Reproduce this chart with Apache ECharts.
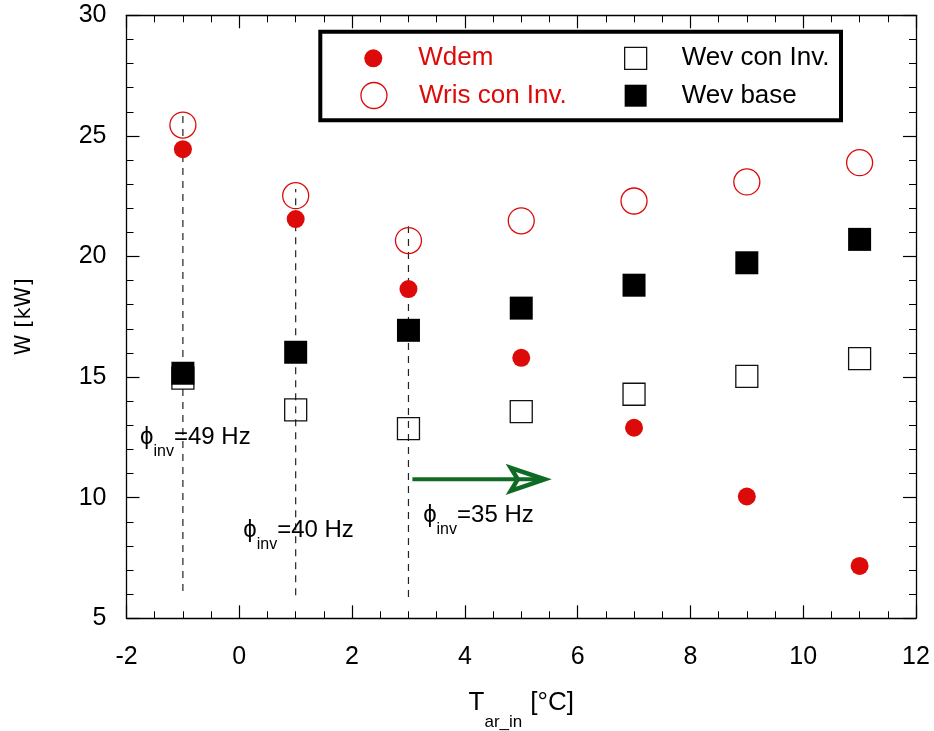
<!DOCTYPE html>
<html>
<head>
<meta charset="utf-8">
<script src="https://cdn.jsdelivr.net/npm/echarts@6/dist/echarts.min.js"></script>
<style>
  html, body { margin: 0; padding: 0; background: #fff; }
  #chart { width: 934px; height: 731px; }
</style>
</head>
<body>
<div id="chart"></div>
<script>
// Outdoor air temperature [°C] and the four power series [kW]
const tAir    = [-1, 1, 3, 5, 7, 9, 11];
const wDem    = [24.45, 21.55, 18.65, 15.8, 12.9, 10.05, 7.17];
const wRisInv = [25.45, 22.52, 20.66, 21.48, 22.3, 23.09, 23.89];
const wEvInv  = [14.96, 13.64, 12.86, 13.57, 14.29, 15.03, 15.77];
const wEvBase = [15.16, 16.03, 16.94, 17.86, 18.81, 19.74, 20.71];

// Axis ranges and tick steps
const xMin = -2, xMax = 12, xStep = 2;
const yMin = 5, yMax = 30, yStep = 5;

// Vertical dashed guides at the inverter-frequency points
const guideX    = [-1, 1, 3];
const guideFrom = [6.13, 5.96, 5.88];
const guideTo   = [25.85, 22.8, 21.25];

// Inverter frequency notes (left edge x, text middle y)
const freqX  = [-1.76, 0.07, 3.26];
const freqY  = [12.52, 8.65, 9.27];
const freqHz = [49, 40, 35];

// Green arrow (start, tip) in data units
const arrowStart = [3.07, 10.76];
const arrowEnd   = [5.47, 10.76];

const RED = '#dd0a0a';
const GREEN = '#0f6a24';
const FONT = 'Liberation Sans, Arial, sans-serif';
const SQUARE = 'path://M0,0H10V10H0Z';

const chart = echarts.init(document.getElementById('chart'));

function valueAxis(min, max, step, minorSplit, position, showLabels, extra) {
  return Object.assign({
    type: 'value',
    min: min, max: max, interval: step,
    position: position,
    axisLine: { onZero: false, lineStyle: { color: '#000', width: 1.3 } },
    axisTick: { inside: true, length: 13, lineStyle: { color: '#000', width: 1.2 } },
    minorTick: { show: true, splitNumber: minorSplit, length: 7, lineStyle: { color: '#000', width: 1 } },
    splitLine: { show: false },
    minorSplitLine: { show: false },
    axisLabel: { show: showLabels, fontSize: 25, color: '#000', fontFamily: FONT }
  }, extra || {});
}

const option = {
  backgroundColor: '#fff',
  animation: false,
  grid: { left: 126.5, right: 18, top: 15.3, bottom: 112.7, containLabel: false, outerBoundsMode: 'none' },
  xAxis: [
    valueAxis(xMin, xMax, xStep, 4, 'bottom', true, {
      axisLabel: { show: true, margin: 26, fontSize: 25, color: '#000', fontFamily: FONT },
      name: '{t|T}{s|ar_in}{u|[°C]}',
      nameLocation: 'middle',
      nameGap: 54,
      nameTextStyle: {
        rich: {
          t: { fontSize: 26, lineHeight: 30, color: '#000', fontFamily: FONT },
          s: { fontSize: 17, lineHeight: 20, padding: [40, 0, 0, 0], color: '#000', fontFamily: FONT },
          u: { fontSize: 26, lineHeight: 30, padding: [0, 0, 0, 8], color: '#000', fontFamily: FONT }
        }
      }
    }),
    valueAxis(xMin, xMax, xStep, 4, 'top', false)
  ],
  yAxis: [
    valueAxis(yMin, yMax, yStep, 5, 'left', true, {
      axisLabel: { show: true, margin: 20, fontSize: 25, color: '#000', fontFamily: FONT },
      name: 'W [kW]',
      nameLocation: 'middle',
      nameGap: 91,
      nameTextStyle: { fontSize: 21, color: '#000', fontFamily: 'DejaVu Sans, sans-serif' }
    }),
    valueAxis(yMin, yMax, yStep, 5, 'right', false)
  ],
  legend: [
    {
      data: [{ name: 'Wdem', icon: 'circle', textStyle: { color: RED } }],
      left: 364.3, top: 44.3, padding: 0,
      itemWidth: 80, itemHeight: 18, selectedMode: false,
      textStyle: { fontSize: 26, lineHeight: 28, fontFamily: FONT, color: RED }
    },
    {
      data: [{ name: 'Wris con Inv.', icon: 'circle', textStyle: { color: RED } }],
      left: 360.3, top: 81.5, padding: 0,
      itemWidth: 80, itemHeight: 26, selectedMode: false,
      itemStyle: { borderWidth: 1.3 },
      textStyle: { fontSize: 26, lineHeight: 28, fontFamily: FONT, color: RED }
    },
    {
      data: [
        { name: 'Wev con Inv.', icon: SQUARE },
        { name: 'Wev base', icon: SQUARE }
      ],
      orient: 'vertical',
      left: 624, top: 44.3, padding: 0, itemGap: 9.4,
      itemWidth: 82, itemHeight: 22, selectedMode: false,
      itemStyle: { borderWidth: 1.3 },
      textStyle: { fontSize: 26, lineHeight: 28, fontFamily: FONT, color: '#000' }
    }
  ],
  graphic: [
    {
      type: 'rect',
      shape: { x: 320.3, y: 31.7, width: 520.7, height: 88.6 },
      style: { fill: 'none', stroke: '#000', lineWidth: 4 },
      z: 100
    }
  ],
  series: [
    {
      name: 'guides',
      type: 'custom',
      silent: true,
      z: 1,
      data: guideX.map((x, i) => [x, guideFrom[i], guideTo[i]]),
      renderItem: function (params, api) {
        const p0 = api.coord([api.value(0), api.value(1)]);
        const p1 = api.coord([api.value(0), api.value(2)]);
        return {
          type: 'line',
          shape: { x1: p0[0], y1: p0[1], x2: p1[0], y2: p1[1] },
          style: { stroke: '#222', lineWidth: 1.2, lineDash: [7, 6] }
        };
      }
    },
    {
      name: 'arrow',
      type: 'custom',
      silent: true,
      z: 2,
      data: [[arrowStart[0], arrowStart[1], arrowEnd[0], arrowEnd[1]]],
      renderItem: function (params, api) {
        const a = api.coord([api.value(0), api.value(1)]);
        const b = api.coord([api.value(2), api.value(3)]);
        const tip = b[0] - 3, len = 34, half = 11.5, notch = 7;
        return {
          type: 'group',
          children: [
            {
              type: 'line',
              shape: { x1: a[0], y1: a[1], x2: tip - 4, y2: b[1] },
              style: { stroke: GREEN, lineWidth: 4 }
            },
            {
              type: 'polygon',
              shape: { points: [[tip - len, b[1] - half], [tip, b[1]], [tip - len, b[1] + half], [tip - len + notch, b[1]]] },
              style: { fill: 'none', stroke: GREEN, lineWidth: 4.5, lineJoin: 'miter' }
            }
          ]
        };
      }
    },
    {
      name: 'notes',
      type: 'scatter',
      silent: true,
      symbolSize: 0,
      z: 3,
      itemStyle: { opacity: 1 },
      data: freqX.map((x, i) => [x, freqY[i]]),
      label: {
        show: true,
        position: 'right',
        distance: 0,
        color: '#000',
        opacity: 1,
        formatter: function (p) {
          return '{phi|ϕ}{sub|inv}{main|=' + freqHz[p.dataIndex] + ' Hz}';
        },
        rich: {
          phi: { fontSize: 24, lineHeight: 26, color: '#000', fontFamily: FONT },
          sub: { fontSize: 16, lineHeight: 18, padding: [29, 0, 0, 0], color: '#000', fontFamily: FONT },
          main: { fontSize: 24, lineHeight: 26, color: '#000', fontFamily: FONT }
        }
      }
    },
    {
      name: 'Wris con Inv.',
      type: 'scatter',
      symbol: 'circle',
      symbolSize: 26,
      z: 4,
      itemStyle: { color: 'rgba(255,255,255,0)', borderColor: RED, borderWidth: 1.3, opacity: 1 },
      data: tAir.map((t, i) => [t, wRisInv[i]])
    },
    {
      name: 'Wev con Inv.',
      type: 'scatter',
      symbol: 'rect',
      symbolSize: 22,
      z: 5,
      itemStyle: { color: 'rgba(255,255,255,0)', borderColor: '#111', borderWidth: 1.3, opacity: 1 },
      data: tAir.map((t, i) => [t, wEvInv[i]])
    },
    {
      name: 'Wev base',
      type: 'scatter',
      symbol: 'rect',
      symbolSize: 23,
      z: 6,
      itemStyle: { color: '#000', opacity: 1 },
      data: tAir.map((t, i) => [t, wEvBase[i]])
    },
    {
      name: 'Wdem',
      type: 'scatter',
      symbol: 'circle',
      symbolSize: 18,
      z: 7,
      itemStyle: { color: RED, opacity: 1 },
      data: tAir.map((t, i) => [t, wDem[i]])
    }
  ]
};

chart.setOption(option);
</script>
</body>
</html>
